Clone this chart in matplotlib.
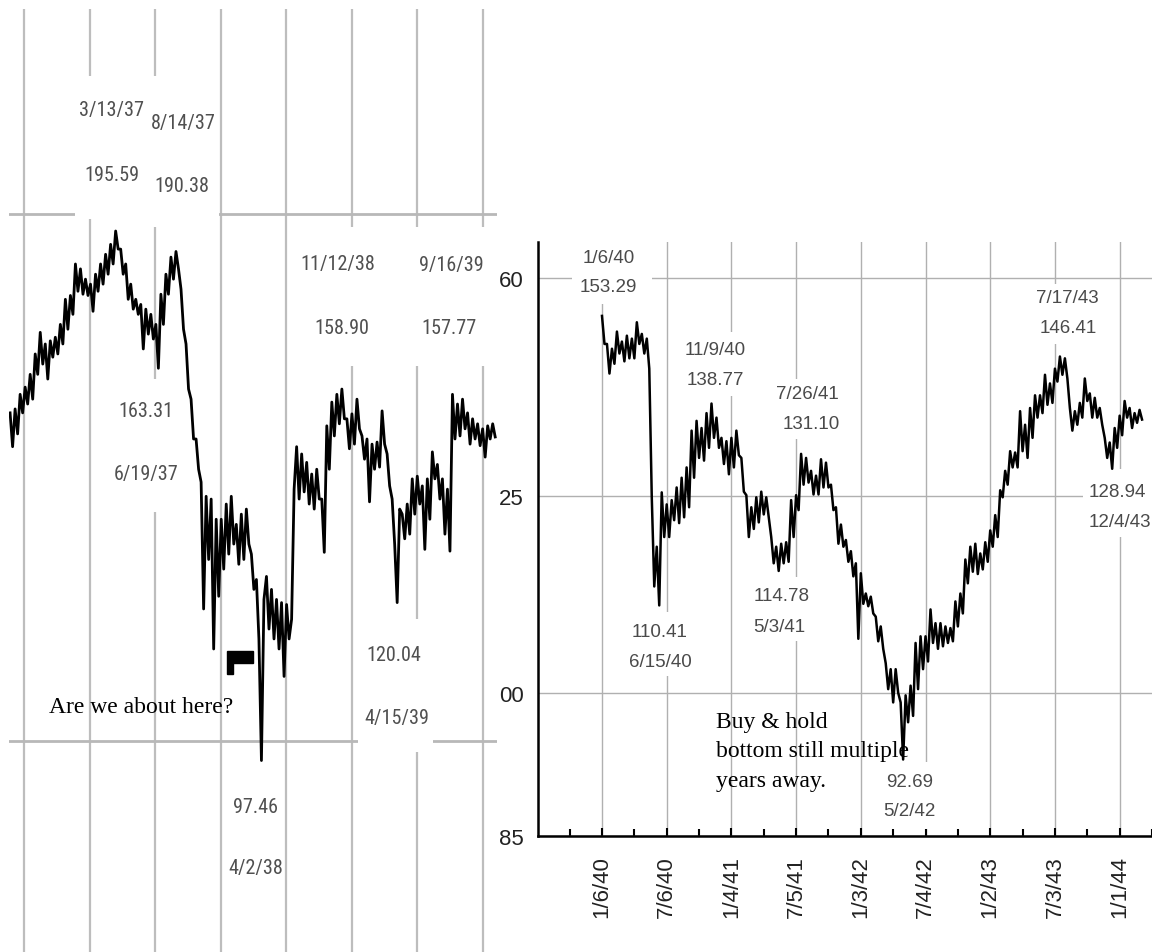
import matplotlib
matplotlib.use("Agg")
import matplotlib.pyplot as plt
import matplotlib.ticker as ticker
import matplotlib.transforms as mtransforms
from matplotlib.patches import Rectangle
from matplotlib import font_manager
from matplotlib.font_manager import FontProperties
import pandas as pd

W, H = 1152, 953

# ---- left chart: 1936-1940, weekly (high/low alternating) ----
left_start = "1936-05-23"
left_values = [
    154.0, 147.3, 154.8, 149.8, 157.8, 154.0, 159.3, 155.8, 162.0, 156.8,
    166.4, 162.0, 171.2, 164.2, 168.6, 161.0, 169.3, 165.7, 170.1, 166.4,
    173.0, 168.6, 178.8, 171.9, 179.7, 175.3, 187.3, 180.7, 186.1, 180.0,
    183.6, 179.7, 182.4, 176.0, 184.8, 180.7, 187.3, 182.4, 189.7, 184.8,
    192.2, 187.3, 195.6, 191.0, 191.0, 184.8, 187.3, 178.8, 182.4, 176.5,
    178.8, 175.3, 177.6, 167.5, 176.5, 170.8, 175.3, 169.7, 173.0, 163.3,
    180.0, 173.0, 184.8, 180.0, 189.0, 183.6, 190.4, 186.1, 181.2, 171.9,
    168.6, 158.9, 156.8, 148.8, 148.8, 143.0, 140.6, 119.0, 138.0, 127.0,
    137.5, 112.9, 133.9, 121.0, 133.9, 125.4, 136.6, 127.9, 138.0, 129.6,
    133.0, 126.2, 134.8, 127.0, 135.7, 129.6, 127.9, 122.1, 123.7, 114.4,
    97.5, 120.5, 124.2, 115.9, 122.1, 114.4, 120.5, 112.9, 120.0, 108.9,
    119.7, 114.4, 117.4, 139.3, 147.3, 137.5, 145.9, 138.8, 144.3, 136.6,
    142.1, 135.7, 143.0, 137.5, 137.5, 128.2, 151.4, 143.0, 156.2, 149.4,
    157.8, 151.8, 158.9, 152.8, 152.8, 146.9, 153.8, 147.8, 156.8, 150.8,
    149.4, 144.9, 148.8, 137.0, 147.8, 143.0, 148.2, 143.4, 154.4, 147.8,
    145.9, 139.9, 137.5, 129.6, 120.0, 135.7, 134.8, 130.5, 136.6, 131.3,
    141.2, 134.8, 141.7, 136.6, 139.9, 128.7, 141.2, 133.9, 146.3, 141.2,
    143.9, 137.5, 141.2, 131.3, 139.3, 128.4, 157.8, 148.8, 155.8, 149.4,
    156.8, 150.8, 154.0, 147.8, 152.8, 148.8, 151.8, 147.5, 150.8, 145.3,
    151.4, 148.8, 151.8, 149.2,
]
left_grid_dates = pd.date_range("1936-07-01", "1940-01-01", freq="6MS")
left_levels = [100, 200]

# the black pointer next to "Are we about here?"
pointer_dates = pd.to_datetime(["1938-01-17", "1938-03-31", "1938-03-31",
                                "1938-02-03", "1938-02-03", "1938-01-17"])
pointer_values = [112.6, 112.6, 110.9, 110.9, 109.2, 109.2]

left_notes = [
    (111, 109, "3/13/37"), (112, 174, "195.59"),
    (183, 122, "8/14/37"), (182, 185, "190.38"),
    (146, 410, "163.31"), (146, 473, "6/19/37"),
    (256, 806, "97.46"), (256, 867, "4/2/38"),
    (338, 263, "11/12/38"), (342, 327, "158.90"),
    (451, 264, "9/16/39"), (449, 327, "157.77"),
    (394, 654, "120.04"), (397, 717, "4/15/39"),
]
left_boxes = [(75, 77, 150, 220), (150, 77, 219, 228), (112, 380, 180, 513),
              (228, 780, 284, 895), (298, 228, 380, 367), (410, 228, 492, 367),
              (358, 620, 433, 753)]

# ---- right chart: 1940-1944, weekly (high/low alternating) ----
right_start = "1940-01-06"
right_values = [
    153.3, 148.5, 148.5, 143.6, 147.7, 145.2, 150.6, 146.9, 148.9, 145.6,
    149.9, 146.1, 149.4, 146.1, 152.2, 148.5, 150.2, 146.9, 149.4, 144.4,
    124.8, 112.8, 118.0, 110.4, 125.5, 119.3, 123.8, 119.3, 124.4, 121.6,
    126.2, 121.2, 127.6, 122.0, 129.1, 123.4, 134.6, 127.6, 136.1, 130.5,
    135.0, 130.1, 137.3, 132.0, 138.8, 133.5, 136.6, 132.0, 133.5, 129.6,
    133.0, 128.1, 133.5, 129.1, 134.6, 130.9, 130.5, 125.6, 125.1, 119.3,
    123.4, 120.4, 124.8, 121.3, 125.6, 122.4, 124.8, 122.0, 119.3, 115.8,
    118.0, 114.8, 118.4, 115.8, 118.6, 116.0, 124.4, 119.3, 125.1, 123.0,
    131.1, 126.6, 130.5, 126.9, 128.6, 125.2, 127.9, 125.2, 130.3, 126.2,
    129.8, 126.2, 126.6, 123.0, 123.4, 118.4, 121.0, 118.0, 118.9, 116.0,
    117.4, 114.1, 115.8, 106.3, 114.5, 110.6, 111.9, 110.3, 111.5, 109.4,
    109.0, 106.0, 107.8, 105.1, 103.4, 100.4, 102.7, 98.9, 102.7, 100.0,
    98.9, 92.7, 99.7, 96.7, 100.8, 97.4, 105.8, 100.4, 106.6, 102.7,
    106.6, 103.6, 109.9, 105.8, 108.2, 105.1, 108.2, 105.4, 107.8, 105.8,
    107.6, 106.0, 110.9, 107.8, 111.9, 109.4, 116.3, 113.2, 118.0, 114.7,
    118.4, 114.4, 117.1, 115.0, 118.6, 116.0, 120.2, 118.0, 122.3, 119.3,
    125.8, 124.8, 128.6, 126.6, 131.5, 129.1, 131.3, 129.1, 137.6, 131.5,
    135.5, 130.5, 138.1, 133.5, 140.1, 136.6, 140.1, 137.3, 143.4, 138.6,
    142.0, 138.9, 144.4, 142.3, 146.4, 143.4, 146.1, 142.8, 138.1, 134.6,
    137.6, 135.5, 138.9, 136.6, 142.8, 139.2, 140.4, 136.6, 139.7, 136.6,
    138.1, 135.5, 133.5, 130.5, 132.8, 128.9, 135.0, 132.0, 136.9, 133.9,
    139.2, 136.6, 138.1, 135.0, 137.3, 135.8, 137.8, 136.3,
]
right_tick_dates = pd.date_range("1940-01-06", periods=9, freq="182D")
right_minor_dates = pd.date_range("1939-10-07", periods=10, freq="182D")
right_levels = [160, 125, 100, 85]
right_level_labels = ["60", "25", "00", "85"]

right_notes = [
    (609, 256, "1/6/40"), (608, 285, "153.29"),
    (715, 348, "11/9/40"), (715, 378, "138.77"),
    (807, 392, "7/26/41"), (811, 422, "131.10"),
    (1067, 296, "7/17/43"), (1068, 326, "146.41"),
    (1117, 490, "128.94"), (1120, 520, "12/4/43"),
    (782, 594, "114.78"), (779, 625, "5/3/41"),
    (660, 630, "110.41"), (660, 660, "6/15/40"),
    (910, 780, "92.69"), (909, 809, "5/2/42"),
]
right_boxes = [(572, 243, 652, 305), (680, 333, 750, 397), (772, 380, 845, 440),
               (1030, 285, 1103, 345), (1083, 470, 1152, 538), (748, 578, 815, 642),
               (625, 613, 695, 677), (880, 763, 940, 830)]


def narrow_font():
    # the left labels are set in a condensed face; use one if the box has it
    prefs = [("LiberationSansNarrow-Regular", 16), ("RobotoCondensed-Regular", 14.5),
             ("DejaVuSansCondensed.ttf", 12.5)]
    files = [f.fname for f in font_manager.fontManager.ttflist]
    for key, size in prefs:
        for fn in files:
            if key in fn:
                return FontProperties(fname=fn, size=size)
    return FontProperties(family="Liberation Sans", size=13)


left_fp = narrow_font()

fig = plt.figure(figsize=(W / 100, H / 100), dpi=100)
px = mtransforms.Affine2D().scale(1 / W, -1 / H).translate(0, 1) + fig.transFigure


def fpos(x0, y0, x1, y1):
    return [x0 / W, 1 - y1 / H, (x1 - x0) / W, (y1 - y0) / H]


def put_notes(ax, notes, boxes, fp, color):
    for x0, y0, x1, y1 in boxes:
        ax.add_patch(Rectangle((x0, y0), x1 - x0, y1 - y0, transform=px,
                               facecolor="white", edgecolor="none", zorder=2, clip_on=False))
    off = 0.36 * fp.get_size_in_points() * 100 / 72
    for x, y, s in notes:
        ax.text(x, y + off, s, transform=px, ha="center", va="baseline",
                fontproperties=fp, color=color, zorder=3, clip_on=False)


# left panel
axl = fig.add_axes(fpos(9, 10, 497, 953))
axl.plot(pd.date_range(left_start, periods=len(left_values), freq="7D"), left_values,
         color="black", lw=2.0, zorder=4)
axl.fill(pointer_dates, pointer_values, color="black", zorder=4)
axl.set_yscale("log")
axl.set_xlim(pd.Timestamp("1936-05-20"), pd.Timestamp("1940-02-08"))
axl.set_ylim(75.8, 261.9)
axl.set_xticks(left_grid_dates)
axl.set_yticks(left_levels)
axl.yaxis.set_minor_locator(ticker.NullLocator())
axl.xaxis.grid(True, color="#bdbdbd", lw=1.6)
axl.yaxis.grid(True, color="#b8b8b8", lw=2.0)
axl.set_axisbelow(True)
axl.tick_params(which="both", length=0, labelbottom=False, labelleft=False)
for s in axl.spines.values():
    s.set_visible(False)
put_notes(axl, left_notes, left_boxes, left_fp, "#505050")
axl.text(49, 713, "Are we about here?", transform=px, ha="left", va="baseline",
         family="Liberation Serif", fontsize=17, color="black", zorder=3)

# right panel
axr = fig.add_axes(fpos(538, 243, 1152, 837))
axr.plot(pd.date_range(right_start, periods=len(right_values), freq="7D"), right_values,
         color="black", lw=1.8, zorder=4)
axr.set_yscale("log")
axr.set_xlim(pd.Timestamp("1939-07-10"), pd.Timestamp("1944-03-07"))
axr.set_ylim(85, 166.7)
axr.set_yticks(right_levels, right_level_labels)
axr.yaxis.set_minor_locator(ticker.NullLocator())
axr.set_xticks(right_tick_dates, [f"{d.month}/{d.day}/{d.year % 100}" for d in right_tick_dates],
               rotation=90)
axr.set_xticks(right_minor_dates, minor=True)
axr.grid(which="major", color="#b0b0b0", lw=1.0)
axr.set_axisbelow(True)
axr.tick_params(axis="x", which="both", direction="in", length=6, width=1.5, pad=14,
                labelsize=16, labelcolor="#222222")
axr.tick_params(axis="x", which="minor", length=5)
axr.tick_params(axis="y", length=0, pad=10, labelsize=16, labelcolor="#222222")
for lab in axr.get_xticklabels() + axr.get_yticklabels():
    lab.set_family("Liberation Sans")
axr.spines["top"].set_visible(False)
axr.spines["right"].set_visible(False)
axr.spines["left"].set_linewidth(1.8)
axr.spines["bottom"].set_linewidth(1.8)
put_notes(axr, right_notes, right_boxes, FontProperties(family="Liberation Sans", size=13.5),
          "#4a4a4a")
for y, s in [(728, "Buy & hold"), (757, "bottom still multiple"), (787, "years away.")]:
    axr.text(716, y, s, transform=px, ha="left", va="baseline", family="Liberation Serif",
             fontsize=17, color="black", zorder=3)

fig.savefig("out.png", dpi=100, facecolor="white")
